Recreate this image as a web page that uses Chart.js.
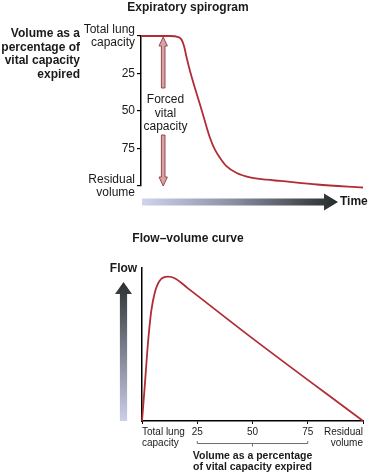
<!DOCTYPE html>
<html>
<head>
<meta charset="utf-8">
<script src="https://cdn.jsdelivr.net/npm/chart.js@4/dist/chart.umd.min.js"></script>
<style>
  html, body { margin: 0; padding: 0; background: #ffffff; }
  #wrap { position: relative; width: 369px; height: 473px; overflow: hidden; }
  #c1 { position: absolute; left: 0; top: 0; }
  #c2 { position: absolute; left: 0; top: 215px; }
</style>
</head>
<body>
<div id="wrap">
  <canvas id="c1" width="369" height="215"></canvas>
  <canvas id="c2" width="369" height="258"></canvas>
</div>
<script>
// ---- Data: expiratory spirogram ----
const spiroTime = [0, 13.1, 16.8, 18.3, 19.4, 20.6, 22.1, 24.3, 26.6, 28.8, 31.1, 33.3, 35.6, 38.6, 43.1, 49.1, 56.6, 62.6, 79.3, 100];
const spiroVolumeExpired = [0, 0, 0.7, 2.5, 6.9, 14.7, 23.5, 34.7, 45.8, 56.9, 68, 75.8, 81.3, 86.9, 91.3, 94.2, 95.8, 96.6, 99, 101];
const spiroTicks = [0, 25, 50, 75, 100];
const spiroTickLabels = [['Total lung', 'capacity'], '25', '50', '75', ['Residual', 'volume']];

// ---- Data: flow-volume curve ----
const fvVolume = [0, 1.2, 2.7, 4.2, 5.8, 8.0, 11.8, 14.8, 20.8, 50, 100];
const fvFlow = [0, 22, 51, 72, 84, 91.7, 94.3, 93.3, 86.7, 54, 0];
const fvTicks = [0, 25, 50, 75, 100];
const fvTickLabels = [['Total lung', 'capacity'], '25', '50', '75', ['Residual', 'volume']];

// ---- Text ----
const spiroTitle = 'Expiratory spirogram';
const spiroYTitle = ['Volume as a', 'percentage of', 'vital capacity', 'expired'];
const fvcLabel = ['Forced', 'vital', 'capacity'];
const timeLabel = 'Time';
const fvTitle = 'Flow\u2013volume curve';
const flowLabel = 'Flow';
const fvXTitle = ['Volume as a percentage', 'of vital capacity expired'];

const FONT = "'Liberation Sans', Arial, Helvetica, sans-serif";
const INK = '#1a1a1a';
const CURVE = '#b12d35';

Chart.defaults.font.family = FONT;
Chart.defaults.color = INK;

function labelFor(ticksArr, labels) {
  return function (value) {
    const i = ticksArr.indexOf(value);
    return i >= 0 ? labels[i] : '';
  };
}

// ---------- Chart 1: spirogram ----------
const spiroDecor = {
  id: 'spiroDecor',
  afterDraw(chart) {
    const ctx = chart.ctx;
    const ca = chart.chartArea;
    const y = chart.scales.y;
    const x = chart.scales.x;
    ctx.save();
    // title
    ctx.fillStyle = INK;
    ctx.font = 'bold 12px ' + FONT;
    ctx.textAlign = 'center';
    ctx.textBaseline = 'middle';
    ctx.fillText(spiroTitle, 188, 7.5);
    // y title (horizontal, right aligned)
    ctx.textAlign = 'right';
    spiroYTitle.forEach((t, i) => ctx.fillText(t, 80, 34 + i * 13.5));

    // FVC double arrow
    const ax = x.getPixelForValue(10);
    const yTop = y.getPixelForValue(0) + 1;
    const yBot = y.getPixelForValue(100);
    const gapTop = 88, gapBot = 135;
    ctx.fillStyle = '#d9a3a3';
    ctx.strokeStyle = '#8e3b40';
    ctx.lineWidth = 0.9;
    const sw = 1.8, hw = 4.2, hl = 9;
    // upper part
    ctx.beginPath();
    ctx.moveTo(ax, yTop);
    ctx.lineTo(ax + hw, yTop + hl);
    ctx.lineTo(ax + sw, yTop + hl);
    ctx.lineTo(ax + sw, gapTop);
    ctx.lineTo(ax - sw, gapTop);
    ctx.lineTo(ax - sw, yTop + hl);
    ctx.lineTo(ax - hw, yTop + hl);
    ctx.closePath();
    ctx.fill(); ctx.stroke();
    // lower part
    ctx.beginPath();
    ctx.moveTo(ax, yBot);
    ctx.lineTo(ax + hw, yBot - hl);
    ctx.lineTo(ax + sw, yBot - hl);
    ctx.lineTo(ax + sw, gapBot);
    ctx.lineTo(ax - sw, gapBot);
    ctx.lineTo(ax - sw, yBot - hl);
    ctx.lineTo(ax - hw, yBot - hl);
    ctx.closePath();
    ctx.fill(); ctx.stroke();
    // FVC text
    ctx.fillStyle = INK;
    ctx.font = '12px ' + FONT;
    ctx.textAlign = 'center';
    fvcLabel.forEach((t, i) => ctx.fillText(t, ax + 2.3, 100 + i * 13.3));

    // Time arrow (gradient)
    const x0 = ca.left + 1, x1 = 338, cy = 202;
    const g = ctx.createLinearGradient(x0, 0, x1, 0);
    g.addColorStop(0, '#d0d4ec');
    g.addColorStop(0.45, '#8d92a6');
    g.addColorStop(1, '#262b2b');
    ctx.fillStyle = g;
    ctx.beginPath();
    ctx.moveTo(x0, cy - 3.5);
    ctx.lineTo(x1 - 14, cy - 3.5);
    ctx.lineTo(x1 - 14, cy - 8.5);
    ctx.lineTo(x1, cy);
    ctx.lineTo(x1 - 14, cy + 8.5);
    ctx.lineTo(x1 - 14, cy + 3.5);
    ctx.lineTo(x0, cy + 3.5);
    ctx.closePath();
    ctx.fill();
    ctx.fillStyle = INK;
    ctx.font = 'bold 12px ' + FONT;
    ctx.textAlign = 'left';
    ctx.fillText(timeLabel, 340, 201.5);
    ctx.restore();
  }
};

new Chart(document.getElementById('c1'), {
  type: 'line',
  data: {
    datasets: [{
      data: spiroTime.map((t, i) => ({ x: t, y: spiroVolumeExpired[i] })),
      borderColor: CURVE,
      borderWidth: 1.8,
      pointRadius: 0,
      fill: false,
      cubicInterpolationMode: 'monotone',
      clip: false
    }]
  },
  options: {
    responsive: false,
    animation: false,
    events: [],
    layout: { padding: { top: 36, bottom: 29, left: 0, right: 6 } },
    plugins: { legend: { display: false }, tooltip: { enabled: false }, title: { display: false } },
    scales: {
      x: { type: 'linear', min: 0, max: 100, display: false },
      y: {
        type: 'linear', min: 0, max: 100, reverse: true,
        afterFit(s) { s.width = 141; },
        afterBuildTicks(s) { s.ticks = spiroTicks.map(v => ({ value: v })); },
        border: { display: true, color: '#000', width: 1.5 },
        grid: { drawOnChartArea: false, drawTicks: true, tickLength: 4, color: '#000', lineWidth: 1.2 },
        ticks: {
          callback: labelFor(spiroTicks, spiroTickLabels),
          font: { size: 12, lineHeight: 1.1 },
          color: INK,
          padding: 2
        }
      }
    }
  },
  plugins: [spiroDecor]
});

// ---------- Chart 2: flow-volume ----------
const fvDecor = {
  id: 'fvDecor',
  afterDraw(chart) {
    const ctx = chart.ctx;
    const ca = chart.chartArea;
    const xs = chart.scales.x;
    ctx.save();
    // title
    ctx.fillStyle = INK;
    ctx.font = 'bold 12px ' + FONT;
    ctx.textAlign = 'center';
    ctx.textBaseline = 'middle';
    ctx.fillText(fvTitle, 188, 24);
    // Flow label
    ctx.fillText(flowLabel, 123.5, ca.top + 0.5);
    // Flow arrow
    const cx = 123.5, tip = ca.top + 14, bot = ca.bottom;
    const g = ctx.createLinearGradient(0, bot, 0, tip);
    g.addColorStop(0, '#cbcfe9');
    g.addColorStop(0.5, '#7d8290');
    g.addColorStop(1, '#2b3131');
    ctx.fillStyle = g;
    ctx.beginPath();
    ctx.moveTo(cx - 3.6, bot);
    ctx.lineTo(cx - 3.6, tip + 12);
    ctx.lineTo(cx - 8.5, tip + 12);
    ctx.lineTo(cx, tip);
    ctx.lineTo(cx + 8.5, tip + 12);
    ctx.lineTo(cx + 3.6, tip + 12);
    ctx.lineTo(cx + 3.6, bot);
    ctx.closePath();
    ctx.fill();
    // bracket under 25..75
    const bx0 = xs.getPixelForValue(25), bx1 = xs.getPixelForValue(75), bm = xs.getPixelForValue(50);
    const by = 228.5;
    ctx.strokeStyle = '#6e6e6e';
    ctx.lineWidth = 1;
    ctx.beginPath();
    ctx.moveTo(bx0, by - 2.5); ctx.lineTo(bx0, by); ctx.lineTo(bx1, by); ctx.lineTo(bx1, by - 2.5);
    ctx.moveTo(bm, by); ctx.lineTo(bm, by + 3);
    ctx.stroke();
    ctx.restore();
  }
};

new Chart(document.getElementById('c2'), {
  type: 'line',
  data: {
    datasets: [{
      data: fvVolume.map((v, i) => ({ x: v, y: fvFlow[i] })),
      borderColor: CURVE,
      borderWidth: 1.8,
      pointRadius: 0,
      fill: false,
      cubicInterpolationMode: 'monotone',
      clip: false
    }]
  },
  options: {
    responsive: false,
    animation: false,
    events: [],
    layout: { padding: { top: 53, bottom: 0, left: 0, right: 6 } },
    plugins: { legend: { display: false }, tooltip: { enabled: false }, title: { display: false } },
    scales: {
      x: {
        type: 'linear', min: 0, max: 100,
        afterFit(s) { s.height = 52; },
        afterBuildTicks(s) { s.ticks = fvTicks.map(v => ({ value: v })); },
        border: { display: true, color: '#000', width: 1.5 },
        grid: { drawOnChartArea: false, drawTicks: true, tickLength: 3, color: '#000', lineWidth: 1 },
        ticks: {
          callback: labelFor(fvTicks, fvTickLabels),
          align: 'inner',
          maxRotation: 0,
          autoSkip: false,
          font: { size: 10, lineHeight: 1.15 },
          color: INK,
          padding: 2
        },
        title: {
          display: true,
          text: fvXTitle,
          font: { size: 10.5, weight: 'bold', lineHeight: 1.1 },
          color: INK,
          padding: { top: 0, bottom: 0 }
        }
      },
      y: {
        type: 'linear', min: 0, max: 100,
        afterFit(s) { s.width = 142; },
        border: { display: true, color: '#000', width: 1.5 },
        grid: { display: false, drawTicks: false },
        ticks: { display: false }
      }
    }
  },
  plugins: [fvDecor]
});
</script>
</body>
</html>
